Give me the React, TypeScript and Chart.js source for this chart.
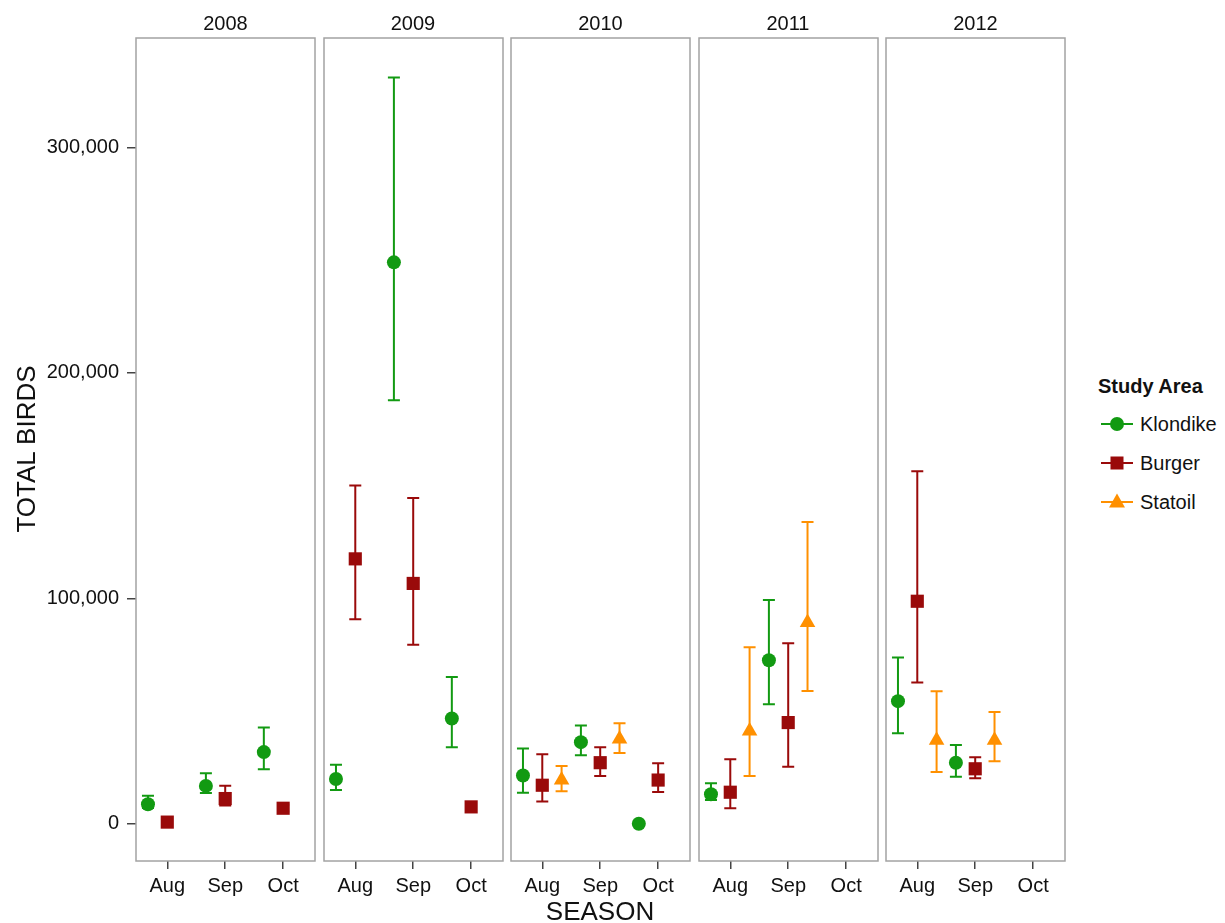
import React, { useEffect, useRef } from 'react';
import { Chart, registerables } from 'chart.js';

Chart.register(...registerables);

// ---------- DATA ----------
const years = ['2008', '2009', '2010', '2011', '2012'];
const months = ['Aug', 'Sep', 'Oct'];
const yTicks = [0, 100000, 200000, 300000];

// [year][month] ; null = no observation
const klondikeMean = [[8700, 16800, 31800], [19900, 249000, 46700], [21400, 36200, 0], [13100, 72500, null], [54400, 27100, null]];
const klondikeLow = [[7000, 13700, 24200], [15000, 187800, 34000], [13800, 30400, null], [10500, 53000, null], [40200, 20900, null]];
const klondikeHigh = [[12400, 22400, 42700], [26200, 331000, 65100], [33400, 43600, null], [18000, 99300, null], [73800, 34900, null]];

const burgerMean = [[750, 11200, 6900], [117500, 106600, 7500], [17100, 27100, 19400], [14000, 44900, null], [98700, 24400, null]];
const burgerLow = [[null, 8100, 5500], [90700, 79400, null], [9900, 21200, 14100], [6900, 25300, null], [62700, 20200, null]];
const burgerHigh = [[null, 16900, 8500], [150000, 144500, null], [30800, 34000, 26800], [28600, 80100, null], [156400, 29500, null]];

const statoilMean = [[null, null, null], [null, null, null], [19400, 37600, null], [41200, 89300, null], [37000, 37100, null]];
const statoilLow = [[null, null, null], [null, null, null], [14400, 31400, null], [21200, 58900, null], [23000, 27700, null]];
const statoilHigh = [[null, null, null], [null, null, null], [25600, 44600, null], [78300, 133900, null], [58800, 49600, null]];

const series = [
  { name: 'Klondike', color: '#129a12', shape: 'circle', radius: 7, offset: -1 / 3, mean: klondikeMean, low: klondikeLow, high: klondikeHigh },
  { name: 'Burger', color: '#9a0a0a', shape: 'rect', radius: 9.3, offset: 0, mean: burgerMean, low: burgerLow, high: burgerHigh },
  { name: 'Statoil', color: '#ff9000', shape: 'triangle', radius: 9, offset: 1 / 3, mean: statoilMean, low: statoilLow, high: statoilHigh },
];

const FONT = '"Liberation Sans", Arial, Helvetica, sans-serif';
const PANEL_W = 179;
const PANEL_STEP = 187.5;
const FIRST_LEFT = 136;
const CANVAS_H = 923;
const TOP_PAD = 38;
const X_AXIS_H = 62;

const framePlugin = {
  id: 'panelFrame',
  afterDraw(chart: any) {
    const { ctx, chartArea: a } = chart;
    ctx.save();
    ctx.strokeStyle = '#a3a3a3';
    ctx.lineWidth = 1.5;
    ctx.strokeRect(a.left, a.top, a.right - a.left, a.bottom - a.top);
    ctx.restore();
  },
};

const errorBarPlugin = {
  id: 'errorBars',
  beforeDatasetsDraw(chart: any) {
    const { ctx } = chart;
    const xs = chart.scales.x;
    const ys = chart.scales.y;
    chart.data.datasets.forEach((ds: any) => {
      ctx.save();
      ctx.strokeStyle = ds.borderColor;
      ctx.lineWidth = 2;
      ds.data.forEach((p: any) => {
        if (p.lo == null || p.hi == null) return;
        const px = xs.getPixelForValue(p.x);
        const yl = ys.getPixelForValue(p.lo);
        const yh = ys.getPixelForValue(p.hi);
        const cap = 6;
        ctx.beginPath();
        ctx.moveTo(px, yl);
        ctx.lineTo(px, yh);
        ctx.moveTo(px - cap, yl);
        ctx.lineTo(px + cap, yl);
        ctx.moveTo(px - cap, yh);
        ctx.lineTo(px + cap, yh);
        ctx.stroke();
      });
      ctx.restore();
    });
  },
};

function LegendSymbol({ shape, color }: { shape: string; color: string }) {
  return (
    <svg width={34} height={20} style={{ display: 'block' }}>
      <line x1={1} y1={10} x2={33} y2={10} stroke={color} strokeWidth={2} />
      {shape === 'circle' && <circle cx={17} cy={10} r={7} fill={color} />}
      {shape === 'rect' && <rect x={10.5} y={3.5} width={13} height={13} fill={color} />}
      {shape === 'triangle' && <polygon points="17,1.5 25,15.5 9,15.5" fill={color} />}
    </svg>
  );
}

export default function App() {
  const refs = useRef<(HTMLCanvasElement | null)[]>([]);

  useEffect(() => {
    const charts = years.map((yr, i) => {
      const canvas = refs.current[i] as HTMLCanvasElement;
      const first = i === 0;
      const datasets = series.map((s) => ({
        label: s.name,
        data: months.flatMap((m, j) =>
          s.mean[i][j] == null ? [] : [{ x: j + 1 + s.offset, y: s.mean[i][j], lo: s.low[i][j], hi: s.high[i][j] }]
        ),
        pointStyle: s.shape,
        pointRadius: s.radius,
        pointHoverRadius: s.radius,
        backgroundColor: s.color,
        borderColor: s.color,
        borderWidth: 0,
        showLine: false,
      }));
      return new Chart(canvas, {
        type: 'scatter',
        data: { datasets } as any,
        options: {
          animation: false,
          responsive: false,
          devicePixelRatio: 1,
          events: [],
          layout: { autoPadding: false, padding: { left: first ? 0 : 3, right: 3, top: TOP_PAD, bottom: 0 } },
          plugins: { legend: { display: false }, tooltip: { enabled: false }, title: { display: false } },
          scales: {
            x: {
              type: 'linear',
              min: 0.46,
              max: 3.55,
              afterBuildTicks: (scale: any) => {
                scale.ticks = months.map((m, j) => ({ value: j + 1 }));
              },
              afterFit: (scale: any) => {
                scale.height = X_AXIS_H;
                scale.paddingLeft = 0;
                scale.paddingRight = 0;
                scale.paddingTop = 0;
                scale.paddingBottom = 0;
              },
              ticks: {
                callback: (v: any) => months[Math.round(v) - 1] ?? '',
                color: '#111',
                font: { family: FONT, size: 20 },
                padding: 5,
                maxRotation: 0,
                autoSkip: false,
              },
              grid: { drawOnChartArea: false, drawTicks: true, tickLength: 8, color: '#444', lineWidth: 1.5 },
              border: { display: false },
            },
            y: {
              type: 'linear',
              display: first,
              min: -16500,
              max: 348500,
              afterBuildTicks: (scale: any) => {
                scale.ticks = yTicks.map((v) => ({ value: v }));
              },
              afterFit: (scale: any) => {
                scale.width = first ? FIRST_LEFT : 0;
                scale.paddingTop = 0;
                scale.paddingBottom = 0;
                scale.paddingLeft = 0;
                scale.paddingRight = 0;
              },
              ticks: {
                callback: (v: any) => Number(v).toLocaleString('en-US'),
                color: '#111',
                font: { family: FONT, size: 20 },
                padding: 8,
              },
              grid: { drawOnChartArea: false, drawTicks: true, tickLength: 9, color: '#444', lineWidth: 1.5 },
              border: { display: false },
            },
          },
        } as any,
        plugins: [framePlugin, errorBarPlugin],
      });
    });
    return () => charts.forEach((c) => c.destroy());
  }, []);

  const canvasLeft = (i: number) => (i === 0 ? 0 : FIRST_LEFT + i * PANEL_STEP - 3);
  const canvasWidth = (i: number) => (i === 0 ? FIRST_LEFT + PANEL_W + 3 : PANEL_W + 6);

  return (
    <div
      style={{
        position: 'absolute',
        left: 0,
        top: 0,
        width: 1225,
        height: 923,
        overflow: 'hidden',
        background: '#fff',
        fontFamily: FONT,
        color: '#111',
      }}
    >
      {years.map((yr, i) => (
        <canvas
          key={yr}
          ref={(el) => {
            refs.current[i] = el;
          }}
          width={canvasWidth(i)}
          height={CANVAS_H}
          style={{ position: 'absolute', left: canvasLeft(i), top: 0, width: canvasWidth(i), height: CANVAS_H }}
        />
      ))}
      {years.map((yr, i) => (
        <div
          key={'s' + yr}
          style={{
            position: 'absolute',
            left: FIRST_LEFT + i * PANEL_STEP,
            top: 9,
            width: PANEL_W,
            height: 28,
            lineHeight: '28px',
            textAlign: 'center',
            fontSize: 20,
          }}
        >
          {yr}
        </div>
      ))}
      <div
        style={{
          position: 'absolute',
          left: 26 - 150,
          top: 449 - 16,
          width: 300,
          height: 32,
          lineHeight: '32px',
          textAlign: 'center',
          fontSize: 26,
          transform: 'rotate(-90deg)',
        }}
      >
        TOTAL BIRDS
      </div>
      <div
        style={{
          position: 'absolute',
          left: 600 - 150,
          top: 898,
          width: 300,
          height: 26,
          lineHeight: '26px',
          textAlign: 'center',
          fontSize: 26,
        }}
      >
        SEASON
      </div>
      <div style={{ position: 'absolute', left: 1098, top: 372, fontSize: 20, fontWeight: 'bold', lineHeight: '28px' }}>
        Study Area
      </div>
      {series.map((s, k) => (
        <div
          key={s.name}
          style={{
            position: 'absolute',
            left: 1100,
            top: 424 + k * 39 - 14,
            height: 28,
            display: 'flex',
            alignItems: 'center',
            fontSize: 20,
          }}
        >
          <LegendSymbol shape={s.shape} color={s.color} />
          <span style={{ marginLeft: 6 }}>{s.name}</span>
        </div>
      ))}
    </div>
  );
}
